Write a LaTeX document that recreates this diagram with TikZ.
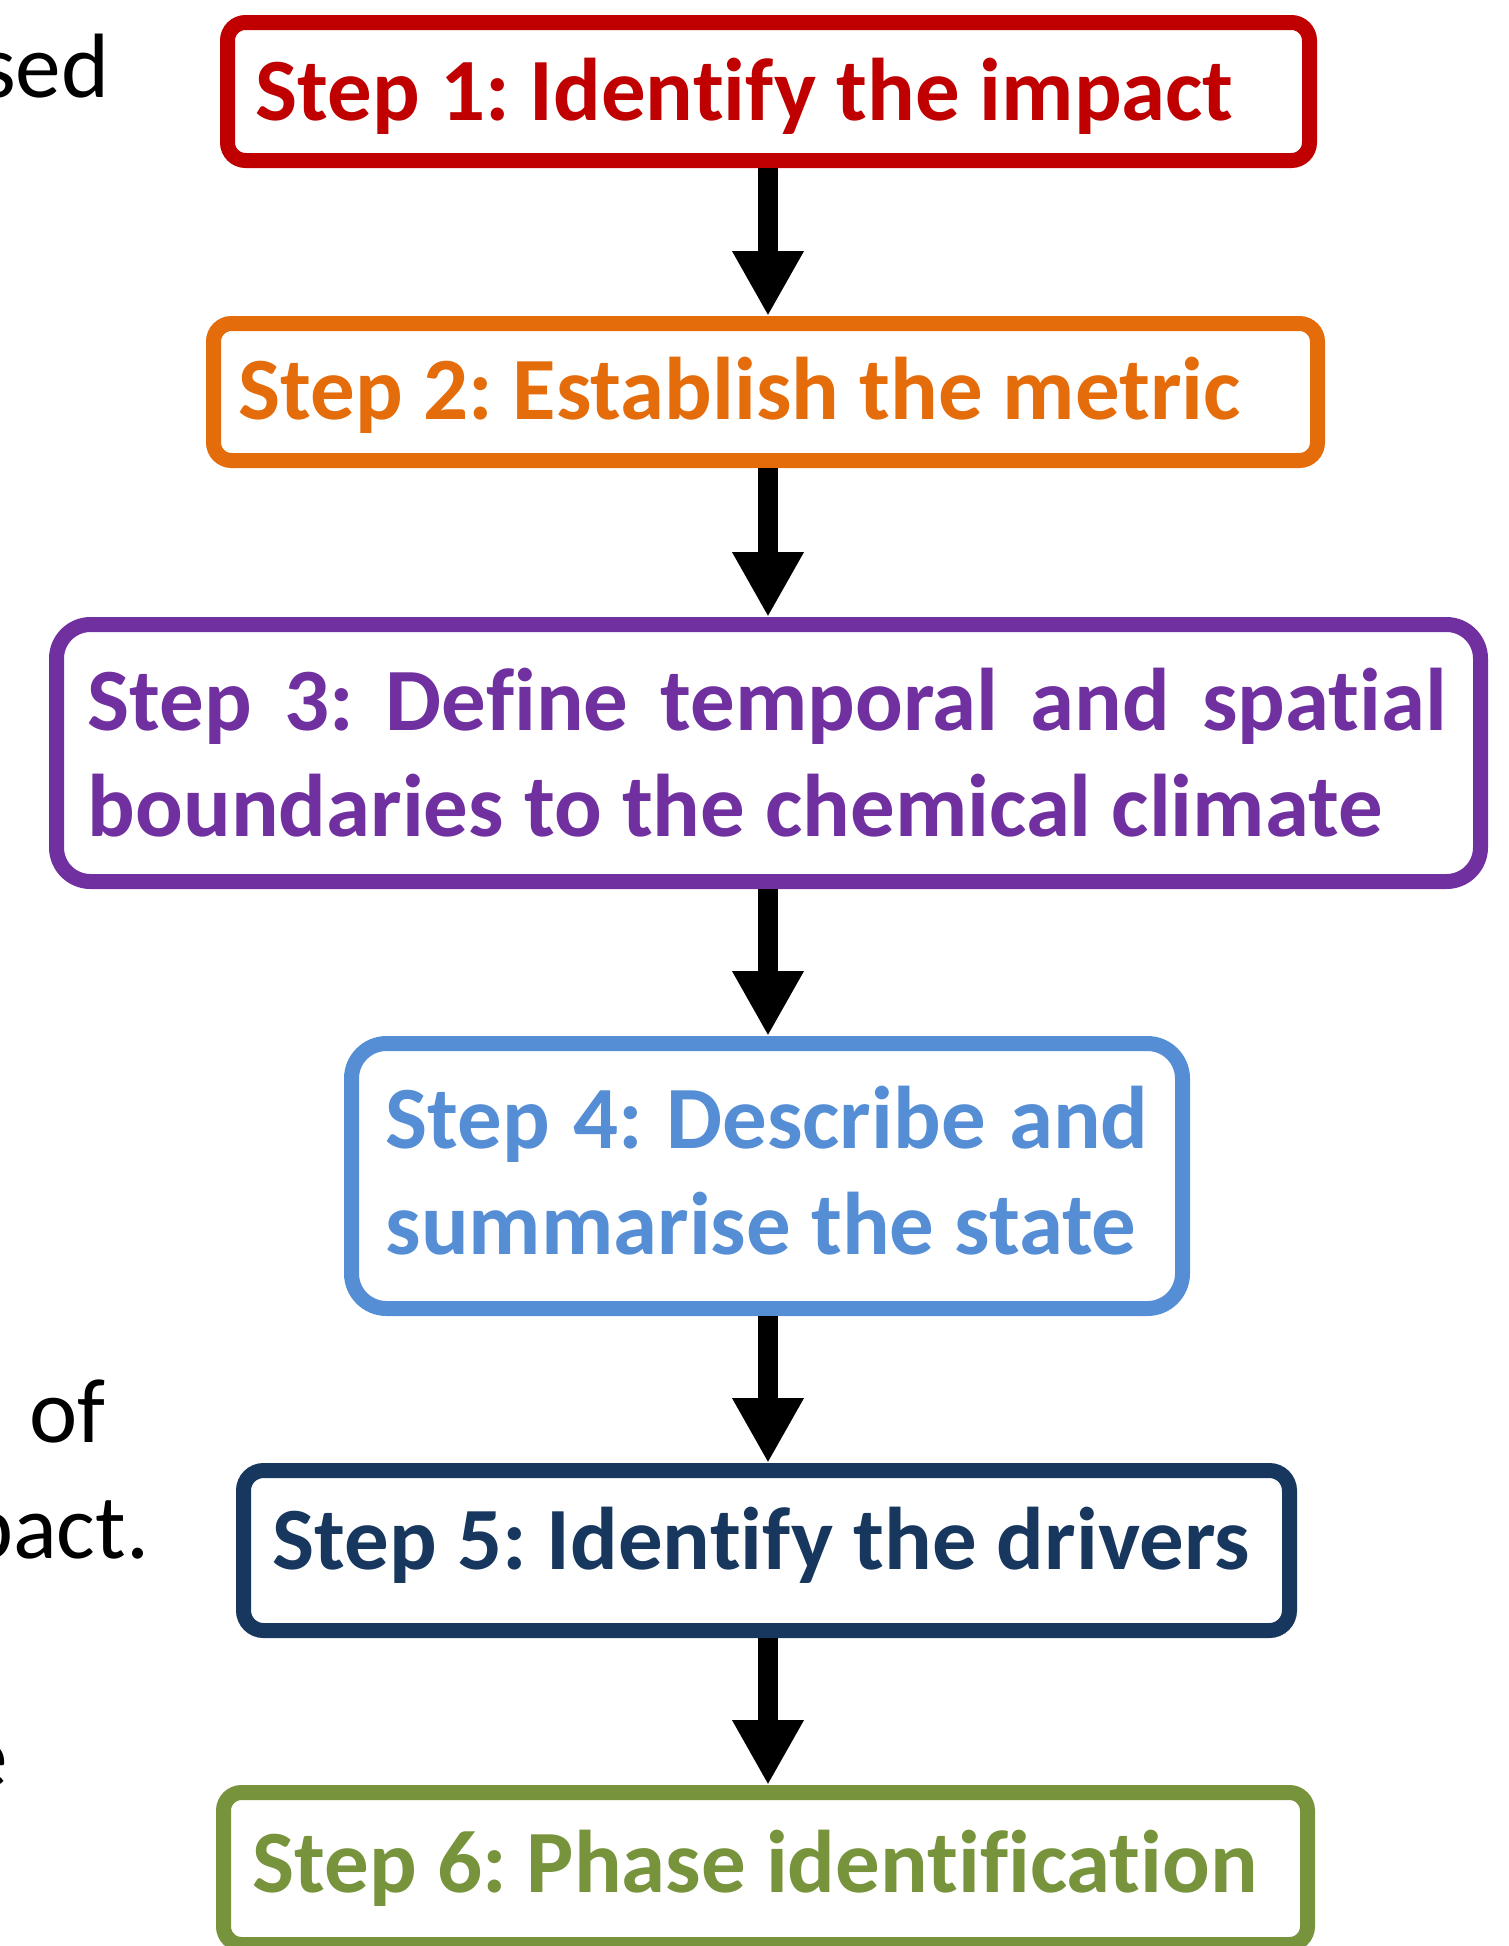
\documentclass[tikz,border=0pt]{standalone}
\usepackage{fontspec}
\setmainfont{Carlito}[Ligatures=CommonOff]
\usetikzlibrary{arrows.meta}
\definecolor{cRed}{HTML}{C00000}
\definecolor{cOrange}{HTML}{E46C0A}
\definecolor{cPurple}{HTML}{7030A0}
\definecolor{cBlue}{HTML}{558ED5}
\definecolor{cNavy}{HTML}{17375E}
\definecolor{cGreen}{HTML}{77933C}
\newcommand{\twolines}[3]{\vtop{\hbox{\makebox[#1][s]{#2}}\hbox{#3}}}
\frenchspacing
\begin{document}
\frenchspacing
\begin{tikzpicture}[x=0.1mm,y=-0.1mm,
  stepbox/.style={draw, line width=1.5mm, rounded corners=1.8mm, inner sep=0pt, fill=white},
  steptext/.style={anchor=base west, inner sep=0pt, font=\fontsize{25.3}{30.4}\selectfont\bfseries\frenchspacing},
  sidetext/.style={anchor=base east, inner sep=0pt, font=\fontsize{26}{31}\selectfont},
  flow/.style={line width=1.95mm, -{Triangle[width=6.7mm,length=6.5mm]}}]
\useasboundingbox (0,0) rectangle (1509,1946);
\clip (0,0) rectangle (1509,1946);

% left margin fragments
\node[sidetext] (s1) at (110,97) {sed};
\node[sidetext] (s2) at (106,1442) {of};
\node[sidetext] (s3) at (150,1558) {pact.};
\node[sidetext] (s4) at (9,1787) {e};

% box centres
\coordinate (c1) at (768.5,91.5);
\coordinate (c2) at (765.5,392);
\coordinate (c3) at (768.5,753);
\coordinate (c4) at (767,1176);
\coordinate (c5) at (766.5,1550.5);
\coordinate (c6) at (765.5,1868.5);

% boxes
\node[stepbox, draw=cRed, minimum width=108.2mm, minimum height=13.8mm] (b1) at (c1) {};
\node[stepbox, draw=cOrange, minimum width=110.4mm, minimum height=13.7mm] (b2) at (c2) {};
\node[stepbox, draw=cPurple, rounded corners=3.4mm, minimum width=142.4mm, minimum height=25.7mm] (b3) at (c3) {};
\node[stepbox, draw=cBlue, rounded corners=3.5mm, minimum width=83.1mm, minimum height=26.5mm] (b4) at (c4) {};
\node[stepbox, draw=cNavy, rounded corners=2.0mm, minimum width=104.6mm, minimum height=16.0mm] (b5) at (c5) {};
\node[stepbox, draw=cGreen, minimum width=108.4mm, minimum height=15.2mm] (b6) at (c6) {};

% texts
\node[steptext, text=cRed] (t1) at (255,120) {Step 1: Identify the impact};
\node[steptext, text=cOrange] (t2) at (238,419) {Step 2: Establish the metric};
\node[steptext, text=cPurple] (t3) at (87,730) {\twolines{135.9mm}{Step 3: Define temporal and spatial}{boundaries to the chemical climate}};
\node[steptext, text=cBlue] (t4) at (385,1148) {\twolines{76.3mm}{Step 4: Describe and}{summarise the state}};
\node[steptext, text=cNavy] (t5) at (272,1569) {Step 5: Identify the drivers};
\node[steptext, text=cGreen] (t6) at (252,1892) {Step 6: Phase identification};

% arrows: from the outer bottom edge of one box to the outer top edge of the next
\coordinate (x) at (768,0);
\foreach \a/\b in {b1/b2,b2/b3,b3/b4,b4/b5,b5/b6}{
  \draw[flow] (\a.south -| x) -- (\b.north -| x);
}
\end{tikzpicture}
\end{document}
